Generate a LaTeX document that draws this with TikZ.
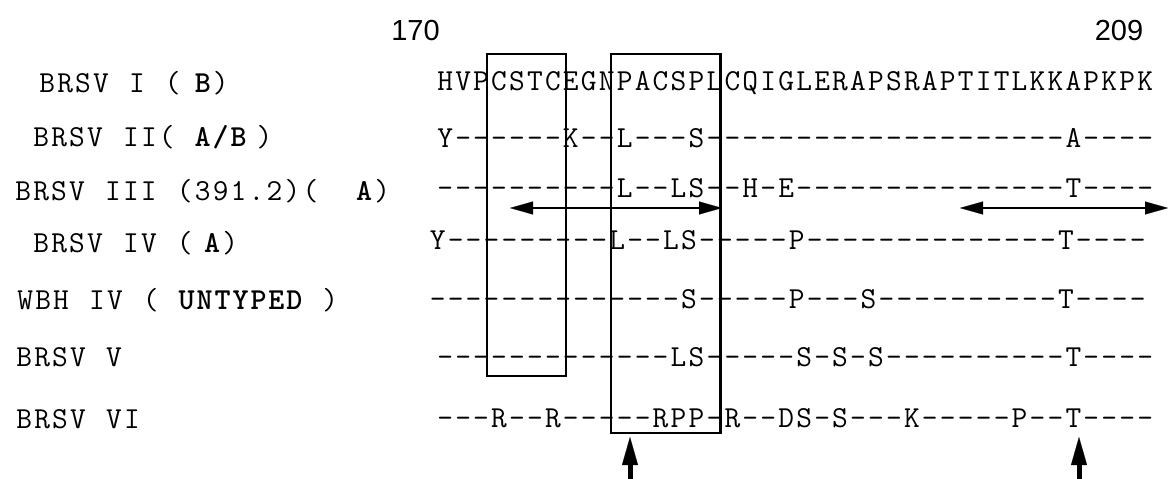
\documentclass[tikz,border=0pt]{standalone}
\usepackage{fontspec}
\newfontfamily\numfont{Liberation Sans}
\usetikzlibrary{arrows.meta}
\newlength\seqcw
\setlength\seqcw{17.95pt}
\makeatletter
\def\seqcells#1{\seq@aux#1\relax}
\def\seq@aux#1{\ifx\relax#1\else\makebox[\seqcw][c]{#1}\expandafter\seq@aux\fi}
\makeatother
\tikzset{
  seq/.style={anchor=base west, inner sep=0pt, font=\ttfamily\fontsize{30.5pt}{30.5pt}\selectfont},
  num/.style={anchor=base, inner sep=0pt, font=\numfont\fontsize{29pt}{29pt}\selectfont},
  boxline/.style={line width=2.5pt},
  dblarr/.style={line width=2.5pt, {Triangle[length=23pt,width=13pt,line width=0.1pt]}-{Triangle[length=23pt,width=13pt,line width=0.1pt]}},
  uparr/.style={line width=5pt, -{Triangle[length=28pt,width=16pt,line width=0.1pt]}}
}
\begin{document}
\begin{tikzpicture}[x=1pt,y=-1pt]
\path[use as bounding box] (0,0) rectangle (1168,479);
% position numbers
\node[num] (n170) at (415.5,40) {170};
\node[num] (n209) at (1119,40) {209};
% labels
\node[seq] (l1) at (38,92) {\seqcells{BRSV~I~(}\hspace{12pt}{\bfseries\seqcells{B}}\seqcells{)}};
\node[seq] (l2) at (32,146) {\seqcells{BRSV~II(~}{\bfseries\seqcells{A/B}}\hspace{8pt}\seqcells{)}};
\node[seq] (l3) at (14,200) {\seqcells{BRSV~III~(391.2)(~~}{\bfseries\seqcells{A}}\seqcells{)}};
\node[seq] (l4) at (32,252) {\seqcells{BRSV~IV~(}\hspace{9.5pt}{\bfseries\seqcells{A}}\seqcells{)}};
\node[seq] (l5) at (16,309) {\seqcells{WBH~IV~(~}{\bfseries\seqcells{UNTYPED}}\seqcells{~)}};
\node[seq] (l6) at (15,366) {\seqcells{BRSV~V}};
\node[seq] (l7) at (15,428) {\seqcells{BRSV~VI}};
% sequences
\node[seq] (r1) at (436,90) {\seqcells{HVPCSTCEGNPACSPLCQIGLERAPSRAPTITLKKAPKPK}};
\node[seq] (r2) at (436,147) {\seqcells{Y------K--L---S--------------------A----}};
\node[seq] (r3) at (436,197) {\seqcells{----------L--LS--H-E---------------T----}};
\node[seq] (r4) at (428.5,249.5) {\seqcells{Y---------L--LS-----P--------------T----}};
\node[seq] (r5) at (428.5,308) {\seqcells{--------------S-----P---S----------T----}};
\node[seq] (r6) at (436,366) {\seqcells{-------------LS-----S-S-S----------T----}};
\node[seq] (r7) at (436,427) {\seqcells{---R--R-----RPP-R--DS-S---K-----P--T----}};
% boxes
\coordinate (b1a) at (487,54);
\coordinate (b1b) at (566,376);
\coordinate (b2a) at (611,54);
\coordinate (b2b) at (720.5,433);
\draw[boxline] (b1a) rectangle (b1b);
\draw[boxline] (b2a) rectangle (b2b);
% double arrows
\coordinate (a1l) at (510,208);
\coordinate (a1r) at (722,208);
\coordinate (a2l) at (960,208);
\coordinate (a2r) at (1168,208);
\draw[dblarr] (a1l) -- (a1r);
\draw[dblarr] (a2l) -- (a2r);
% up arrows
\coordinate (u1b) at (630,479);
\coordinate (u1t) at (630,437);
\coordinate (u2b) at (1079,479);
\coordinate (u2t) at (1079,437);
\draw[uparr] (u1b) -- (u1t);
\draw[uparr] (u2b) -- (u2t);
\end{tikzpicture}
\end{document}
